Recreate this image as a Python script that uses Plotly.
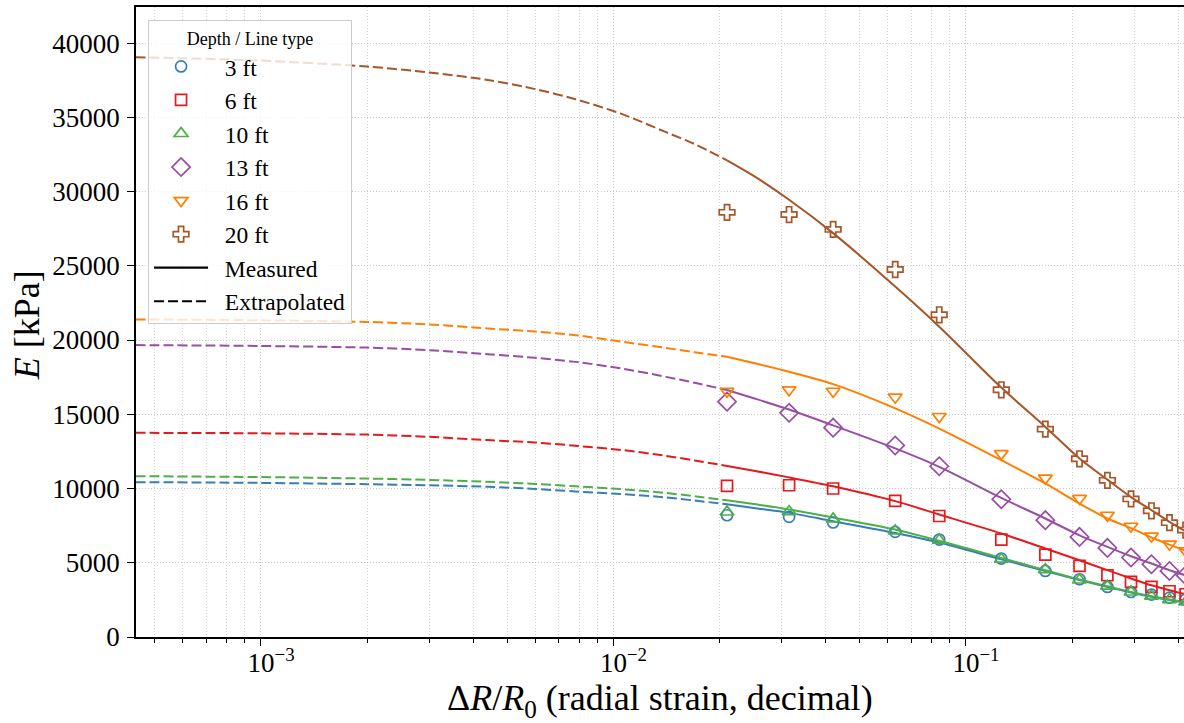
import plotly.graph_objects as go

# ---------------- data ----------------
depths = ["3 ft", "6 ft", "10 ft", "13 ft", "16 ft", "20 ft"]
colors = ["#377eb8", "#e41a1c", "#4daf4a", "#984ea3", "#ff7f00", "#a65628"]
symbols = ["circle-open", "square-open", "triangle-up-open", "diamond-open",
           "triangle-down-open", "cross-open"]
marker_sizes = [11, 11, 12, 14, 12, 13]

strain = [0.021, 0.0315, 0.042, 0.063, 0.084, 0.126, 0.168, 0.21, 0.252,
          0.294, 0.336, 0.378, 0.42]

E_3ft = [8200, 8090, 7710, 7080, 6560, 5280, 4450, 3890, 3370, 3030, 2860, 2650, 2520]
E_6ft = [10180, 10220, 10000, 9170, 8150, 6560, 5550, 4790, 4160, 3710, 3370, 3080, 2880]
E_10ft = [8420, 8450, 7950, 7150, 6520, 5240, 4540, 3840, 3420, 3030, 2750, 2520, 2360]
E_13ft = [15850, 15100, 14100, 12900, 11500, 9280, 7870, 6740, 6000, 5350, 4900, 4450, 4150]
E_16ft = [16550, 16650, 16550, 16150, 14850, 12350, 10700, 9330, 8200, 7460, 6790, 6250, 5800]
E_20ft = [28600, 28450, 27450, 24750, 21700, 16650, 14000, 12000, 10550, 9300, 8500, 7700, 7200]
measured_pts = [E_3ft, E_6ft, E_10ft, E_13ft, E_16ft, E_20ft]

# fitted curve over the measured range
strain_fit = [0.021, 0.025, 0.0315, 0.042, 0.063, 0.084, 0.126, 0.168, 0.21, 0.252,
              0.294, 0.336, 0.378, 0.42]
fit_3ft = [8940, 8690, 8360, 7800, 7010, 6360, 5230, 4450, 3830, 3370, 3000, 2710, 2490, 2300]
fit_6ft = [11520, 11200, 10750, 10150, 9150, 8250, 6970, 5960, 5170, 4500, 3940, 3480, 3150, 2880]
fit_10ft = [9210, 8950, 8590, 8050, 7240, 6480, 5330, 4500, 3870, 3420, 3030, 2740, 2520, 2330]
fit_13ft = [16630, 16080, 15320, 14250, 12700, 11460, 9370, 7980, 6850, 6070, 5440, 4950, 4500, 4150]
fit_16ft = [18870, 18450, 17860, 17030, 15400, 14040, 11910, 10340, 8990, 7980, 7330, 6700, 6220, 5800]
fit_20ft = [32100, 31050, 29450, 27200, 23600, 20900, 16800, 14150, 12020, 10600, 9420, 8540, 7760, 7120]
fit_measured = [fit_3ft, fit_6ft, fit_10ft, fit_13ft, fit_16ft, fit_20ft]

# fitted curve, extrapolated range
strain_ext = [4.4e-4, 1e-3, 2e-3, 3e-3, 4.4e-3, 6e-3, 7.8e-3, 1.05e-2, 1.41e-2, 0.017, 0.021]
ext_3ft = [10430, 10380, 10290, 10220, 10120, 9970, 9800, 9630, 9400, 9190, 8940]
ext_6ft = [13750, 13720, 13630, 13480, 13260, 13100, 12880, 12600, 12200, 11890, 11520]
ext_10ft = [10830, 10770, 10670, 10580, 10450, 10310, 10150, 9960, 9700, 9480, 9210]
ext_13ft = [19660, 19600, 19490, 19320, 19050, 18800, 18530, 18090, 17520, 17120, 16630]
ext_16ft = [21390, 21330, 21220, 21050, 20780, 20570, 20330, 19900, 19470, 19180, 18870]
ext_20ft = [39050, 38820, 38420, 38020, 37520, 36900, 36220, 35250, 34000, 33200, 32100]
fit_extrap = [ext_3ft, ext_6ft, ext_10ft, ext_13ft, ext_16ft, ext_20ft]

x_tickvals = [1e-3, 1e-2, 1e-1]
x_ticktext = ["<span style='color:rgba(0,0,0,0)'><sup>\u22123</sup></span>10<sup>\u22123</sup>",
              "<span style='color:rgba(0,0,0,0)'><sup>\u22122</sup></span>10<sup>\u22122</sup>",
              "<span style='color:rgba(0,0,0,0)'><sup>\u22121</sup></span>10<sup>\u22121</sup>"]
x_minor = [5e-4, 6e-4, 7e-4, 8e-4, 9e-4,
           2e-3, 3e-3, 4e-3, 5e-3, 6e-3, 7e-3, 8e-3, 9e-3,
           2e-2, 3e-2, 4e-2, 5e-2, 6e-2, 7e-2, 8e-2, 9e-2,
           2e-1, 3e-1, 4e-1]

# ---------------- figure ----------------
fig = go.Figure()
DASH = "10px,4px"
PAD = "\u00a0\u00a0"

for i, name in enumerate(depths):
    fig.add_trace(go.Scatter(x=strain_ext, y=fit_extrap[i], mode="lines",
                             line=dict(color=colors[i], width=2, dash=DASH, shape="spline",
                                       smoothing=0.8),
                             showlegend=False, hoverinfo="skip"))
    fig.add_trace(go.Scatter(x=strain_fit, y=fit_measured[i], mode="lines",
                             line=dict(color=colors[i], width=2, shape="spline", smoothing=0.8),
                             showlegend=False, hoverinfo="skip"))

for i, name in enumerate(depths):
    fig.add_trace(go.Scatter(x=strain, y=measured_pts[i], mode="markers", name=PAD + name,
                             marker=dict(symbol=symbols[i], size=marker_sizes[i], color=colors[i],
                                         line=dict(width=1.7, color=colors[i])),
                             legendrank=i + 1))

fig.add_trace(go.Scatter(x=[None], y=[None], mode="lines", name=PAD + "Measured",
                         line=dict(color="black", width=2.2), legendrank=10))
fig.add_trace(go.Scatter(x=[None], y=[None], mode="lines", name=PAD + "Extrapolated",
                         line=dict(color="black", width=2.2, dash=DASH), legendrank=11))

FONT = "Liberation Serif, Times New Roman, serif"
GRID_DASH = "1px,2px"
fig.update_layout(
    width=1184, height=723,
    margin=dict(l=136, r=0, t=7, b=86),
    plot_bgcolor="white", paper_bgcolor="white",
    font=dict(family=FONT, color="black", size=24),
    legend=dict(x=0.0115, y=0.979, xanchor="left", yanchor="top",
                bgcolor="rgba(255,255,255,0.8)", bordercolor="#cccccc", borderwidth=1,
                font=dict(size=23.5, family=FONT), itemwidth=54,
                title=dict(text="Depth / Line type", font=dict(size=18, family=FONT),
                           side="top center")),
    xaxis=dict(type="log", range=[-3.3546, -0.3813], automargin=False,
               showline=True, linecolor="black", linewidth=1.5, mirror=True,
               ticks="outside", ticklen=7, tickwidth=1.2, tickcolor="black",
               tickvals=x_tickvals, ticktext=x_ticktext, ticklabelstandoff=-6,
               tickfont=dict(size=27, family=FONT),
               showgrid=True, gridcolor="#c8c8c8", griddash=GRID_DASH, gridwidth=1,
               minor=dict(tickvals=x_minor, ticks="outside", ticklen=4, tickwidth=1,
                          tickcolor="black", showgrid=True, gridcolor="#d4d4d4",
                          griddash=GRID_DASH, gridwidth=1),
               zeroline=False),
    yaxis=dict(range=[0, 42430], tick0=0, dtick=5000, tickformat="d", automargin=False,
               showline=True, linecolor="black", linewidth=1.5, mirror=False,
               ticks="outside", ticklen=7, tickwidth=1.2, tickcolor="black",
               tickfont=dict(size=27, family=FONT), ticklabelstandoff=2,
               showgrid=True, gridcolor="#c8c8c8", griddash=GRID_DASH, gridwidth=1,
               zeroline=False),
    annotations=[
        dict(text="\u0394<i>R</i>/<i>R</i><sub>0</sub> (radial strain, decimal)",
             xref="paper", yref="paper", x=0.5, y=-0.101, xanchor="center", yanchor="middle",
             showarrow=False, font=dict(size=36, family=FONT)),
        dict(text="<i>E</i> [kPa]", textangle=-90,
             xref="paper", yref="paper", x=-0.104, y=0.495, xanchor="center", yanchor="middle",
             showarrow=False, font=dict(size=36, family=FONT)),
    ],
)

fig.write_html("out.html", config={"displayModeBar": False},
               post_script="document.body.style.margin='0';document.body.style.overflow='hidden';")
